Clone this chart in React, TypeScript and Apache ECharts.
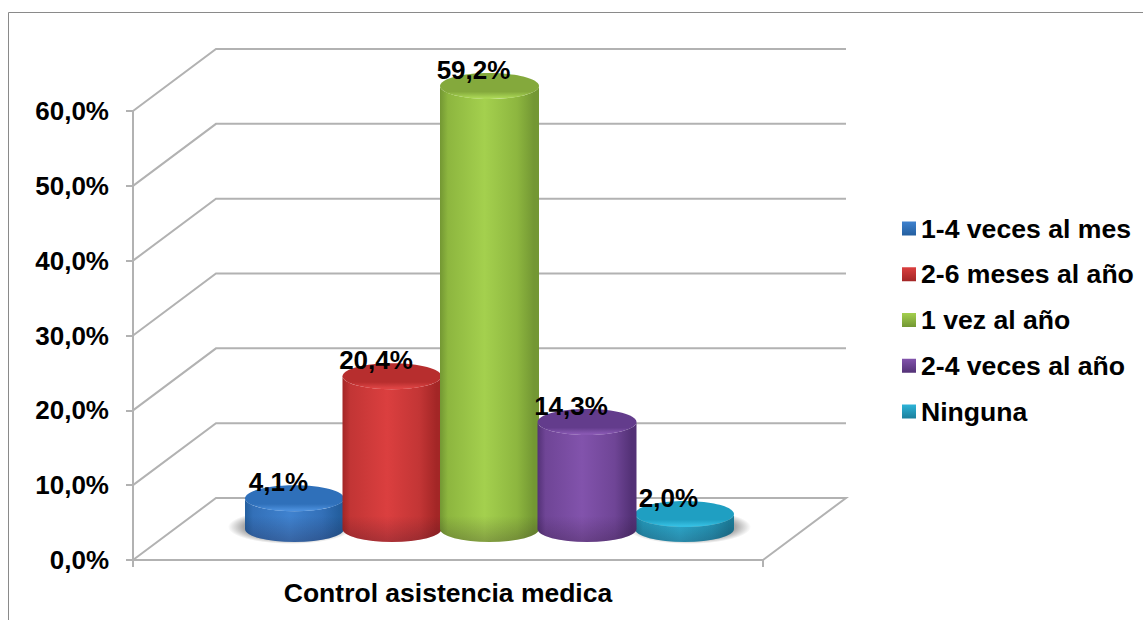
import React, { useEffect, useRef } from "react";
import * as echarts from "echarts";

const categories = ["Control asistencia medica"];
const seriesNames = ["1-4 veces al mes", "2-6 meses al año", "1 vez al año", "2-4 veces al año", "Ninguna"];
const seriesValues = [4.1, 20.4, 59.2, 14.3, 2.0];
const tickValues = [0, 10, 20, 30, 40, 50, 60];

// edge, shade, mid, lid, rim tones for each cylinder
const palette = [
  { edge: "#245f9f", shade: "#3370b8", mid: "#3f82cf", lid: "#2f70ba", rim: "#4b8fdc" },
  { edge: "#a32626", shade: "#c23535", mid: "#db3f3f", lid: "#b72e2e", rim: "#de4444" },
  { edge: "#739733", shade: "#8db63f", mid: "#a4d04e", lid: "#84a93c", rim: "#aad655" },
  { edge: "#533176", shade: "#6f4596", mid: "#8253ac", lid: "#633c8c", rim: "#8858b2" },
  { edge: "#1b7f9c", shade: "#2399ba", mid: "#2db4d8", lid: "#1f9fc2", rim: "#35bfe2" },
];
// paint order: nearer neighbours cover the earlier ones
const paintOrder = [1, 2, 3, 4, 1];

const DEPTH_X = 83;
const DEPTH_Y = 62;
const STEP = 97.5;
const RX = 49.5;
const RY = 13;
const GRID_STROKE = "#b2b2b2";
const FONT = '"Liberation Sans", Arial, sans-serif';

const pct = (v: number) => v.toFixed(1).replace(".", ",") + "%";

// Centre of a cylinder on the floor's middle depth plane
const columnCentre = (api: any, params: any, index: number, value: number) => {
  const cs = params.coordSys;
  const [cx, y] = api.coord([0, value]);
  return { x: cx + DEPTH_X / 2 + (index - 2) * STEP, y: y - DEPTH_Y / 2, cs };
};

const renderWalls = (params: any, api: any) => {
  const v = api.value(0);
  const cs = params.coordSys;
  const y = api.coord([0, v])[1];
  const left = cs.x;
  const right = cs.x + cs.width;
  const points = [
    [left, y],
    [left + DEPTH_X, y - DEPTH_Y],
    [right + DEPTH_X, y - DEPTH_Y],
  ];
  if (v === 0) points.push([right, y]);
  return {
    type: "polyline",
    shape: { points },
    style: { stroke: GRID_STROKE, lineWidth: 2, fill: "none" },
  };
};

const renderShadow = (params: any, api: any) => {
  const i = api.value(0);
  const base = columnCentre(api, params, i, 0);
  return {
    type: "ellipse",
    shape: { cx: base.x + (i === 4 ? 4 : -4), cy: base.y - 2, rx: RX + 13, ry: RY + 4 },
    style: {
      fill: {
        type: "radial",
        x: 0.5,
        y: 0.5,
        r: 0.5,
        colorStops: [
          { offset: 0, color: "rgba(50,50,50,0.5)" },
          { offset: 0.75, color: "rgba(50,50,50,0.42)" },
          { offset: 1, color: "rgba(50,50,50,0)" },
        ],
      },
    },
  };
};

const renderCylinder = (index: number) => (params: any, api: any) => {
  const tone = palette[index];
  const top = columnCentre(api, params, index, api.value(1));
  const base = columnCentre(api, params, index, 0);
  const x = top.x;
  const bodyPath =
    `M${x - RX},${top.y} L${x - RX},${base.y} ` +
    `A${RX},${RY} 0 0 0 ${x + RX},${base.y} L${x + RX},${top.y} ` +
    `A${RX},${RY} 0 0 1 ${x - RX},${top.y} Z`;
  return {
    type: "group",
    children: [
      {
        type: "path",
        shape: { pathData: bodyPath },
        style: {
          fill: {
            type: "linear",
            x: 0,
            y: 0,
            x2: 1,
            y2: 0,
            colorStops: [
              { offset: 0, color: tone.edge },
              { offset: 0.08, color: tone.shade },
              { offset: 0.45, color: tone.mid },
              { offset: 0.78, color: tone.shade },
              { offset: 0.95, color: tone.edge },
              { offset: 1, color: tone.edge },
            ],
          },
        },
      },
      {
        // darker bevel along the bottom edge
        type: "path",
        shape: { pathData: bodyPath },
        style: {
          fill: {
            type: "linear",
            global: true,
            x: 0,
            y: base.y + RY,
            x2: 0,
            y2: base.y - RY,
            colorStops: [
              { offset: 0, color: "rgba(30,10,30,0.25)" },
              { offset: 1, color: "rgba(30,10,30,0)" },
            ],
          },
        },
      },
      {
        type: "ellipse",
        shape: { cx: x, cy: top.y, rx: RX, ry: RY },
        style: {
          fill: {
            type: "linear",
            x: 0,
            y: 0,
            x2: 0,
            y2: 1,
            colorStops: [
              { offset: 0, color: tone.lid },
              { offset: 0.72, color: tone.lid },
              { offset: 0.95, color: tone.rim },
              { offset: 1, color: tone.rim },
            ],
          },
        },
      },
    ],
  };
};

const renderValueLabel = (params: any, api: any) => {
  const i = api.value(0);
  const v = api.value(1);
  const top = columnCentre(api, params, i, v);
  return {
    type: "text",
    style: {
      text: pct(v),
      x: top.x - 16,
      y: top.y - 16,
      align: "center",
      verticalAlign: "middle",
      fill: "#000000",
      font: `bold 26px ${FONT}`,
    },
  };
};

const legendSwatch = (tone: (typeof palette)[number]) => ({
  type: "linear",
  x: 0,
  y: 0,
  x2: 0,
  y2: 1,
  colorStops: [
    { offset: 0, color: tone.mid },
    { offset: 1, color: tone.edge },
  ],
});

export default function App() {
  const ref = useRef<HTMLDivElement>(null);

  useEffect(() => {
    document.body.style.margin = "0";
    const chart = echarts.init(ref.current!, undefined, { renderer: "svg" });
    chart.setOption({
      animation: false,
      backgroundColor: "#ffffff",
      textStyle: { fontFamily: FONT },
      graphic: [
        {
          type: "polyline",
          silent: true,
          shape: { points: [[8.5, 620], [8.5, 12.5], [1143, 12.5]] },
          style: { stroke: "#8a8a8a", lineWidth: 1, fill: "none" },
        },
      ],
      legend: {
        orient: "vertical",
        left: 897,
        top: 210,
        icon: "rect",
        itemWidth: 14,
        itemHeight: 14,
        itemGap: 18.75,
        selectedMode: false,
        textStyle: { color: "#000000", fontFamily: FONT, fontWeight: "bold", fontSize: 26.6 },
        data: seriesNames.map((name, i) => ({ name, itemStyle: { color: legendSwatch(palette[i]) } })),
      },
      grid: { left: 133, top: 111, width: 630, height: 449, containLabel: false },
      xAxis: {
        type: "category",
        data: categories,
        axisLine: { show: true, lineStyle: { color: GRID_STROKE, width: 2 } },
        axisTick: { show: true, length: 7, lineStyle: { color: GRID_STROKE, width: 2 } },
        axisLabel: { color: "#000000", fontFamily: FONT, fontWeight: "bold", fontSize: 26.5, margin: 19 },
      },
      yAxis: {
        type: "value",
        min: 0,
        max: 60,
        interval: 10,
        splitLine: { show: false },
        axisLine: { show: true, lineStyle: { color: GRID_STROKE, width: 2 } },
        axisTick: { show: true, length: 7, lineStyle: { color: GRID_STROKE, width: 2 } },
        axisLabel: {
          color: "#000000",
          fontFamily: FONT,
          fontWeight: "bold",
          fontSize: 26,
          margin: 24,
          formatter: (v: number) => pct(v),
        },
      },
      series: [
        {
          type: "custom",
          name: "walls",
          z: 0,
          silent: true,
          renderItem: renderWalls,
          encode: { y: 0 },
          data: tickValues.map((v) => [v]),
        },
        {
          type: "custom",
          name: "shadows",
          z: 0.5,
          silent: true,
          renderItem: renderShadow,
          data: [[0], [4]],
        },
        ...seriesNames.map((name, i) => ({
          type: "custom",
          name,
          z: 1 + paintOrder[i],
          silent: true,
          itemStyle: { color: palette[i].mid },
          renderItem: renderCylinder(i),
          encode: { x: 0, y: 1 },
          data: [[0, seriesValues[i]]],
        })),
        {
          type: "custom",
          name: "values",
          z: 10,
          silent: true,
          renderItem: renderValueLabel,
          data: seriesValues.map((v, i) => [i, v]),
        },
      ],
    });
    return () => chart.dispose();
  }, []);

  return <div ref={ref} style={{ width: 1143, height: 620 }} />;
}
